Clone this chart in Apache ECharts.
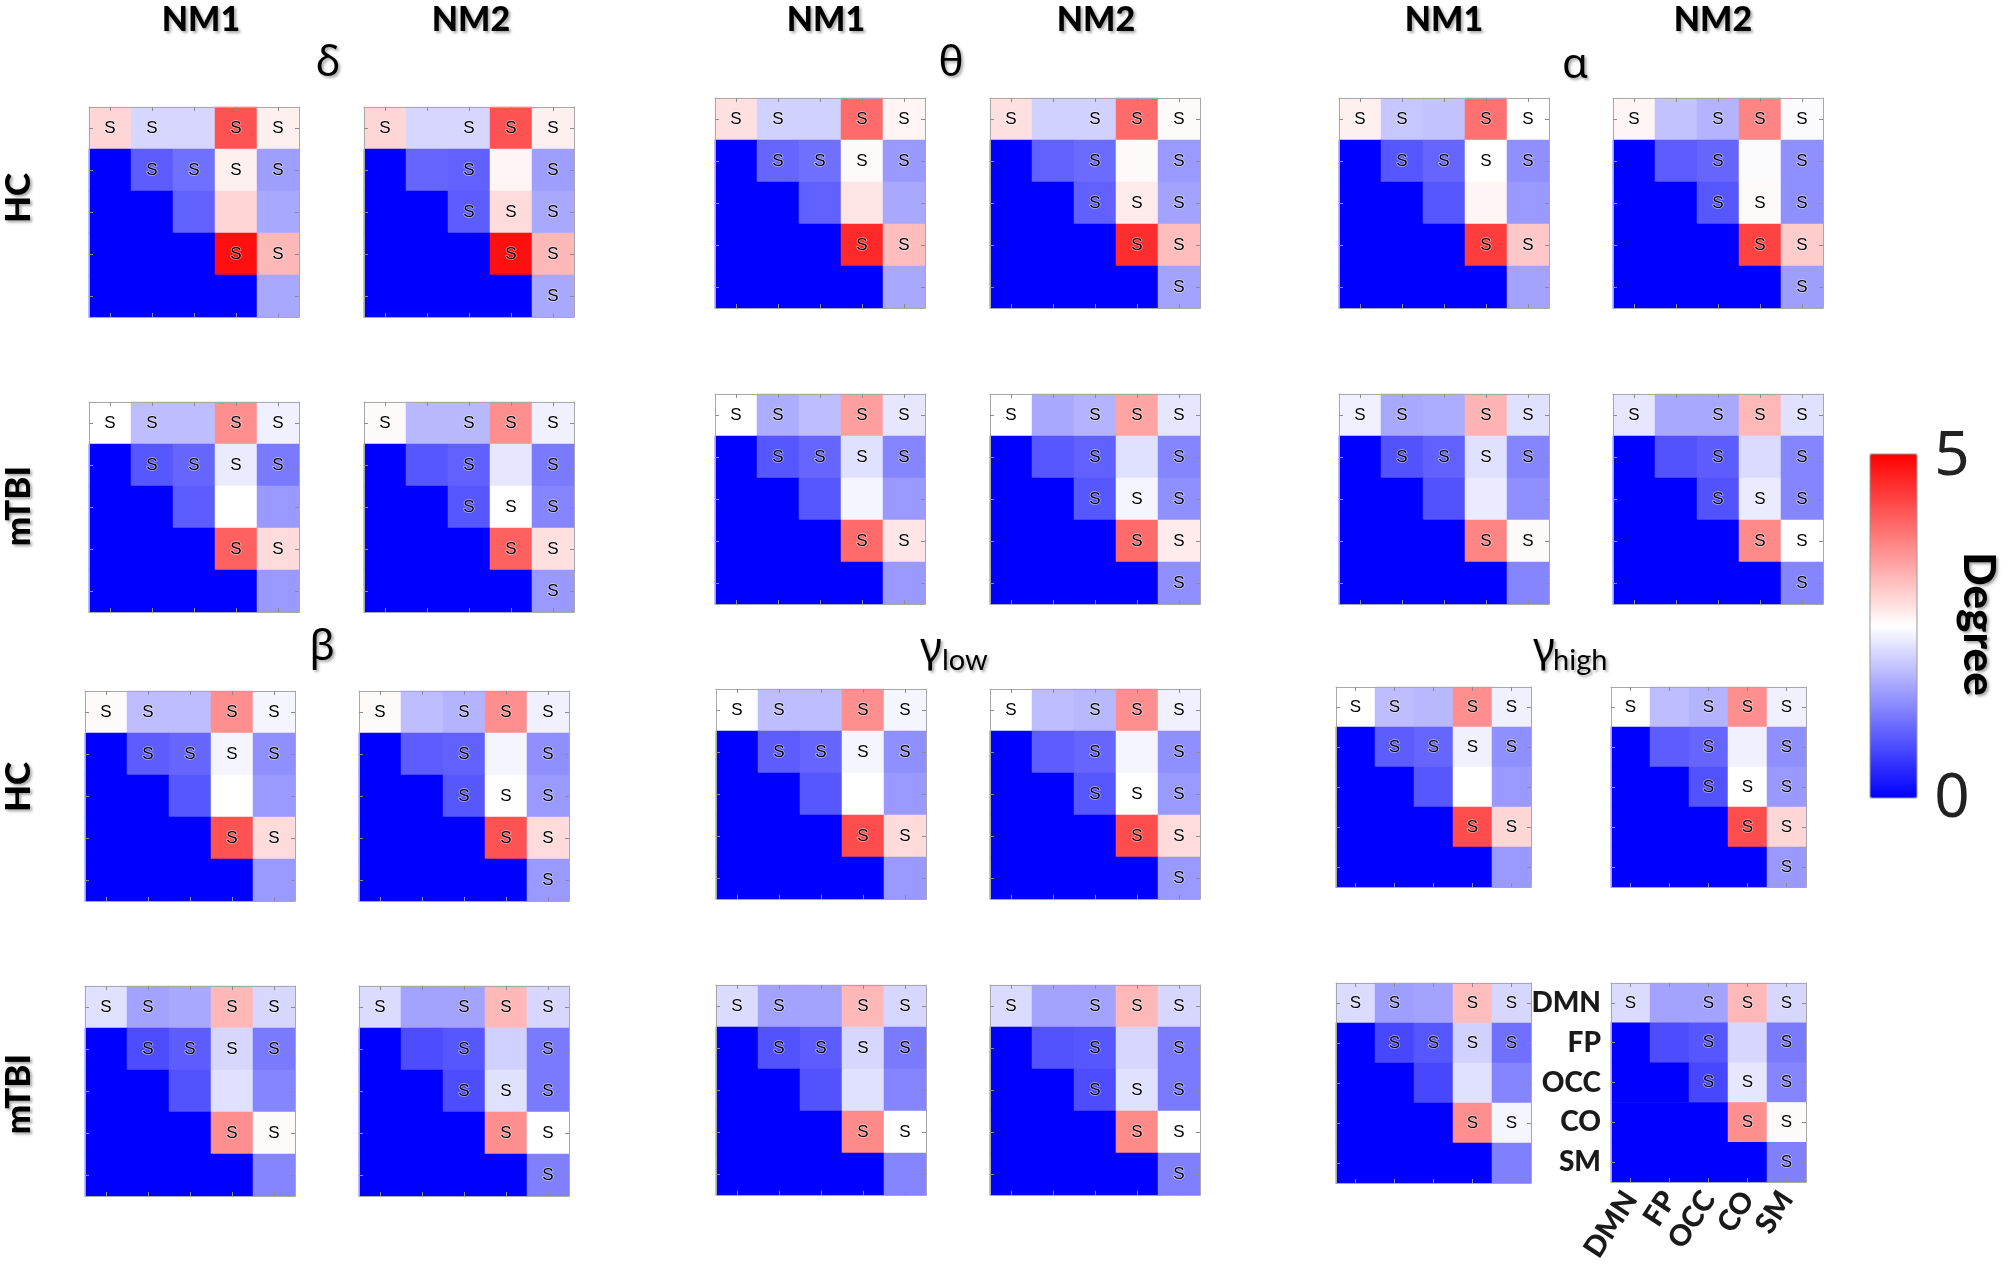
<!DOCTYPE html>
<html>
<head>
<meta charset="utf-8">
<script src="https://cdn.jsdelivr.net/npm/echarts@6/dist/echarts.min.js"></script>
<style>
  html, body { margin: 0; padding: 0; background: #fff; }
  #chart { width: 2008px; height: 1265px; }
</style>
</head>
<body>
<div id="chart"></div>
<script>
// 网络名（行、列相同）
var networks = ['DMN', 'FP', 'OCC', 'CO', 'SM'];

// 上三角（含对角线），按行展开：DMN-DMN..DMN-SM, FP-FP..FP-SM, OCC-OCC.., CO-CO, CO-SM, SM-SM
var deltaHcNm1   = [2.9, 2.1, 2.1, 4.2, 2.65,  0.9, 1.1, 2.65, 1.55,  0.95, 2.9, 1.65,  4.85, 3.2,  1.65];
var deltaHcNm2   = [2.9, 2.1, 2.1, 4.2, 2.65,  1.0, 0.95, 2.6, 1.55,  0.9, 2.85, 1.65,  4.85, 3.2,  1.65];
var deltaTbiNm1  = [2.5, 1.85, 1.85, 3.6, 2.35,  0.85, 1.0, 2.3, 1.2,  0.9, 2.5, 1.5,  4.05, 2.85,  1.5];
var deltaTbiNm2  = [2.55, 1.8, 1.8, 3.6, 2.35,  0.85, 0.95, 2.25, 1.2,  0.85, 2.5, 1.3,  4.05, 2.8,  1.5];

var thetaHcNm1   = [2.8, 2.05, 2.05, 3.95, 2.6,  1.0, 1.1, 2.55, 1.5,  0.95, 2.75, 1.65,  4.6, 3.15,  1.65];
var thetaHcNm2   = [2.8, 2.05, 2.05, 3.95, 2.55,  0.95, 1.05, 2.55, 1.5,  0.95, 2.7, 1.6,  4.55, 3.15,  1.6];
var thetaTbiNm1  = [2.5, 1.7, 1.85, 3.45, 2.25,  0.85, 1.0, 2.2, 1.3,  0.85, 2.4, 1.5,  3.95, 2.75,  1.5];
var thetaTbiNm2  = [2.5, 1.65, 1.75, 3.4, 2.25,  0.85, 0.95, 2.2, 1.3,  0.85, 2.4, 1.4,  3.95, 2.7,  1.4];

var alphaHcNm1   = [2.65, 1.95, 1.9, 3.9, 2.5,  0.85, 1.0, 2.5, 1.4,  0.85, 2.6, 1.5,  4.4, 3.05,  1.6];
var alphaHcNm2   = [2.6, 1.9, 1.75, 3.7, 2.45,  0.9, 1.0, 2.45, 1.4,  0.85, 2.55, 1.4,  4.35, 3.0,  1.55];
var alphaTbiNm1  = [2.35, 1.65, 1.7, 3.25, 2.2,  0.8, 0.95, 2.2, 1.3,  0.8, 2.3, 1.4,  3.7, 2.55,  1.3];
var alphaTbiNm2  = [2.25, 1.65, 1.65, 3.2, 2.2,  0.8, 0.9, 2.15, 1.3,  0.8, 2.3, 1.3,  3.65, 2.5,  1.3];

var betaHcNm1    = [2.55, 1.85, 1.85, 3.6, 2.4,  0.9, 1.0, 2.4, 1.4,  0.85, 2.5, 1.5,  4.2, 2.85,  1.5];
var betaHcNm2    = [2.55, 1.85, 1.75, 3.6, 2.35,  0.9, 0.95, 2.4, 1.4,  0.85, 2.5, 1.5,  4.2, 2.85,  1.5];
var betaTbiNm1   = [2.2, 1.6, 1.65, 3.2, 2.1,  0.75, 0.9, 2.1, 1.2,  0.8, 2.2, 1.3,  3.6, 2.55,  1.3];
var betaTbiNm2   = [2.15, 1.6, 1.6, 3.2, 2.1,  0.75, 0.85, 2.05, 1.2,  0.75, 2.2, 1.2,  3.6, 2.5,  1.25];

var gLowHcNm1    = [2.5, 1.85, 1.85, 3.6, 2.4,  0.9, 1.0, 2.4, 1.4,  0.85, 2.5, 1.5,  4.25, 2.85,  1.5];
var gLowHcNm2    = [2.5, 1.85, 1.8, 3.6, 2.35,  0.9, 1.0, 2.4, 1.4,  0.85, 2.5, 1.5,  4.25, 2.85,  1.5];
var gLowTbiNm1   = [2.15, 1.6, 1.6, 3.2, 2.1,  0.8, 0.9, 2.1, 1.2,  0.8, 2.2, 1.3,  3.65, 2.5,  1.3];
var gLowTbiNm2   = [2.15, 1.6, 1.6, 3.2, 2.1,  0.8, 0.85, 2.1, 1.2,  0.75, 2.2, 1.2,  3.65, 2.5,  1.25];

var gHighHcNm1   = [2.5, 1.85, 1.8, 3.6, 2.35,  0.9, 1.0, 2.35, 1.4,  0.85, 2.5, 1.5,  4.25, 2.9,  1.5];
var gHighHcNm2   = [2.5, 1.85, 1.75, 3.6, 2.35,  0.9, 1.0, 2.35, 1.4,  0.8, 2.5, 1.5,  4.25, 2.9,  1.5];
var gHighTbiNm1  = [2.15, 1.55, 1.6, 3.15, 2.1,  0.7, 0.85, 2.05, 1.1,  0.7, 2.2, 1.3,  3.6, 2.4,  1.25];
var gHighTbiNm2  = [2.15, 1.6, 1.6, 3.2, 2.1,  0.75, 0.85, 2.1, 1.2,  0.7, 2.25, 1.3,  3.6, 2.55,  1.25];

// 显著性标记 s（同上三角顺序）
var sigNm1 = [1, 1, 0, 1, 1,  1, 1, 1, 1,  0, 0, 0,  1, 1,  0];
var sigNm2 = [1, 0, 1, 1, 1,  0, 1, 0, 1,  1, 1, 1,  1, 1,  1];

// 版面：[NM1 左, NM2 左, HC 上, mTBI 上, 宽, 高]，格子边长取整数避免缝隙
var bandBoxes = [
  [89, 364, 107, 402, 210, 210],    // delta
  [715, 990, 98, 394, 210, 210],    // theta
  [1339, 1613, 98, 394, 210, 210],  // alpha
  [85, 359, 691, 986, 210, 210],    // beta
  [716, 990, 689, 985, 210, 210],   // gamma low
  [1336, 1611, 687, 983, 195, 200]  // gamma high
];
var bandData = [
  [[deltaHcNm1, deltaHcNm2], [deltaTbiNm1, deltaTbiNm2]],
  [[thetaHcNm1, thetaHcNm2], [thetaTbiNm1, thetaTbiNm2]],
  [[alphaHcNm1, alphaHcNm2], [alphaTbiNm1, alphaTbiNm2]],
  [[betaHcNm1, betaHcNm2], [betaTbiNm1, betaTbiNm2]],
  [[gLowHcNm1, gLowHcNm2], [gLowTbiNm1, gLowTbiNm2]],
  [[gHighHcNm1, gHighHcNm2], [gHighTbiNm1, gHighTbiNm2]]
];

// 上三角展开成 5x5 热图，下三角填 0
function toCells(vals, sig) {
  var out = [], k = 0;
  for (var r = 0; r < 5; r++) {
    for (var c = 0; c < 5; c++) {
      if (c >= r) {
        out.push({ value: [c, r, vals[k]], label: { show: sig[k] === 1 } });
        k++;
      } else {
        out.push({ value: [c, r, 0], label: { show: false } });
      }
    }
  }
  return out;
}

var grids = [], xAxes = [], yAxes = [], series = [];
var tickStyle = { show: true, inside: true, length: 4, alignWithLabel: true, lineStyle: { color: '#8c8c8c' } };
var lineStyle = { show: true, lineStyle: { color: '#a8a8a8', width: 1 } };

bandBoxes.forEach(function (box, b) {
  for (var g = 0; g < 2; g++) {
    for (var n = 0; n < 2; n++) {
      var gi = grids.length;
      var isLast = (b === 5 && g === 1 && n === 1);
      grids.push({ left: box[n], top: box[2 + g], width: box[4], height: box[5] });
      xAxes.push({
        type: 'category', gridIndex: gi, data: networks, position: 'bottom', z: 10,
        axisLine: lineStyle, axisTick: tickStyle, splitLine: { show: false },
        axisLabel: isLast ? {
          show: true, interval: 0, rotate: 57, margin: 12, color: '#1a1a1a',
          fontFamily: 'Lato', fontWeight: 900, fontSize: 29
        } : { show: false }
      });
      xAxes.push({
        type: 'category', gridIndex: gi, data: networks, position: 'top', z: 10,
        axisLine: lineStyle, axisTick: tickStyle, axisLabel: { show: false }, splitLine: { show: false }
      });
      yAxes.push({
        type: 'category', gridIndex: gi, data: networks, inverse: true, position: 'left', z: 10,
        axisLine: lineStyle, axisTick: tickStyle, splitLine: { show: false },
        axisLabel: isLast ? {
          show: true, interval: 0, margin: 10, color: '#1a1a1a',
          fontFamily: 'Lato', fontWeight: 900, fontSize: 28
        } : { show: false }
      });
      yAxes.push({
        type: 'category', gridIndex: gi, data: networks, inverse: true, position: 'right', z: 10,
        axisLine: lineStyle, axisTick: tickStyle, axisLabel: { show: false }, splitLine: { show: false }
      });
      series.push({
        type: 'heatmap',
        xAxisIndex: gi * 2,
        yAxisIndex: gi * 2,
        data: toCells(bandData[b][g][n], n === 0 ? sigNm1 : sigNm2),
        label: {
          formatter: 'S', color: '#000', fontSize: 17, fontFamily: 'Liberation Sans',
          textBorderColor: 'rgba(255,255,255,0.55)', textBorderWidth: 1.5
        },
        emphasis: { disabled: true },
        itemStyle: { borderWidth: 0 }
      });
    }
  }
});

var shadow = { textShadowColor: 'rgba(0,0,0,0.35)', textShadowBlur: 3, textShadowOffsetX: 2, textShadowOffsetY: 2 };
function txt(x, y, s, font, extra) {
  var style = Object.assign({ text: s, font: font, fill: '#000', align: 'center', verticalAlign: 'middle' }, shadow, extra || {});
  return { type: 'text', x: x, y: y, style: style, z: 20 };
}
function rot(el, r) { el.rotation = r; return el; }

var headFont = '900 34px Lato';
var greekFont = '42px "Noto Sans"';
var graphics = [
  txt(201, 20, 'NM1', headFont), txt(471, 20, 'NM2', headFont),
  txt(826, 20, 'NM1', headFont), txt(1096, 20, 'NM2', headFont),
  txt(1444, 20, 'NM1', headFont), txt(1713, 20, 'NM2', headFont),
  txt(328, 64, 'δ', greekFont), txt(951, 64, 'θ', greekFont),
  txt(1575, 66, 'α', greekFont), txt(322, 648, 'β', greekFont),
  txt(931, 650, 'γ', greekFont), txt(942, 661, 'low', '29px Lato', { align: 'left' }),
  txt(1544, 650, 'γ', greekFont), txt(1553, 661, 'high', '29px Lato', { align: 'left' }),
  rot(txt(19, 198, 'HC', '900 35px Lato'), Math.PI / 2),
  rot(txt(19, 506, 'mTBI', '900 35px Lato'), Math.PI / 2),
  rot(txt(19, 787, 'HC', '900 35px Lato'), Math.PI / 2),
  rot(txt(19, 1094, 'mTBI', '900 35px Lato'), Math.PI / 2),
  txt(1952, 457, '5', '62px "Noto Sans"', { fill: '#222', textShadowColor: 'transparent' }),
  txt(1952, 799, '0', '62px "Noto Sans"', { fill: '#222', textShadowColor: 'transparent' }),
  rot(txt(1978, 624, 'Degree', '900 44px Lato'), -Math.PI / 2),
  { type: 'rect', shape: { x: 1870, y: 454, width: 47, height: 344 }, style: { fill: 'none', stroke: '#999', lineWidth: 1 }, z: 20 }
];

var chart = echarts.init(document.getElementById('chart'));
chart.setOption({
  animation: false,
  backgroundColor: '#fff',
  grid: grids,
  xAxis: xAxes,
  yAxis: yAxes,
  visualMap: {
    type: 'continuous', min: 0, max: 5, calculable: false, realtime: false,
    orient: 'vertical', left: 1870, top: 454, itemWidth: 47, itemHeight: 344, padding: 0,
    inRange: { color: ['#0000ff', '#ffffff', '#ff0000'] },
    text: null, showLabel: false
  },
  series: series,
  graphic: graphics
});
</script>
</body>
</html>
